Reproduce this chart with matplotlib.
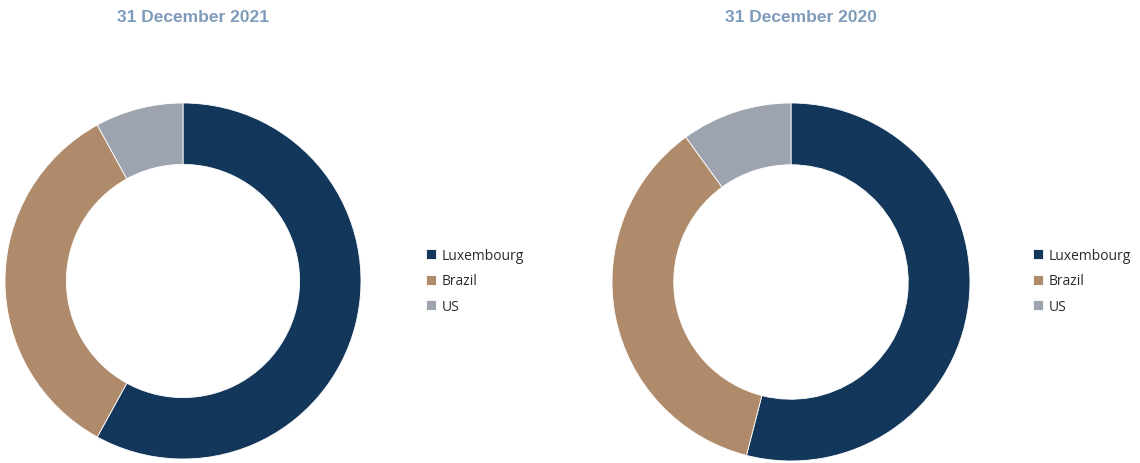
import matplotlib.pyplot as plt

# data (share of total, %)
countries = ['Luxembourg', 'Brazil', 'US']
share_2021 = [58, 34, 8]
share_2020 = [54, 36, 10]
titles = ['31 December 2021', '31 December 2020']

colors = ['#13375B', '#B08B6B', '#9DA4AF']
title_color = '#7F9BBA'

W, H = 1140, 464
fig = plt.figure(figsize=(W / 100, H / 100), dpi=100)
fig.patch.set_facecolor('white')


def px_axes(cx, cy, r):
    # axes box in pixels (origin top-left) -> figure fraction
    return fig.add_axes([(cx - r) / W, (H - cy - r) / H, 2 * r / W, 2 * r / H])


panels = [
    (share_2021, titles[0], (183, 282, 178), (193, 18), (426, 282)),
    (share_2020, titles[1], (791, 283, 179), (801, 18), (1033, 282)),
]

for values, title, (cx, cy, r), (tx, ty), (lx, ly) in panels:
    ax = px_axes(cx, cy, r)
    wedges, _ = ax.pie(values, colors=colors, startangle=90, counterclock=False,
                       radius=1.0,
                       wedgeprops=dict(width=0.345, edgecolor='white', linewidth=0.6))
    ax.set_xlim(-1, 1)
    ax.set_ylim(-1, 1)
    ax.set_aspect('equal')
    ax.axis('off')

    fig.text(tx / W, 1 - ty / H, title, ha='center', va='center',
             fontsize=12.5, fontweight='bold', color=title_color,
             family=['Liberation Sans', 'DejaVu Sans'])

    fig.legend(wedges, countries, loc='center left',
               bbox_to_anchor=(lx / W, 1 - ly / H), bbox_transform=fig.transFigure,
               frameon=False, handlelength=0.7, handleheight=0.7,
               handletextpad=0.45, labelspacing=0.75, borderpad=0, borderaxespad=0,
               labelcolor='#2B2B2B', prop={'family': 'Open Sans', 'size': 10})

plt.savefig('out.png', dpi=100, facecolor='white')
